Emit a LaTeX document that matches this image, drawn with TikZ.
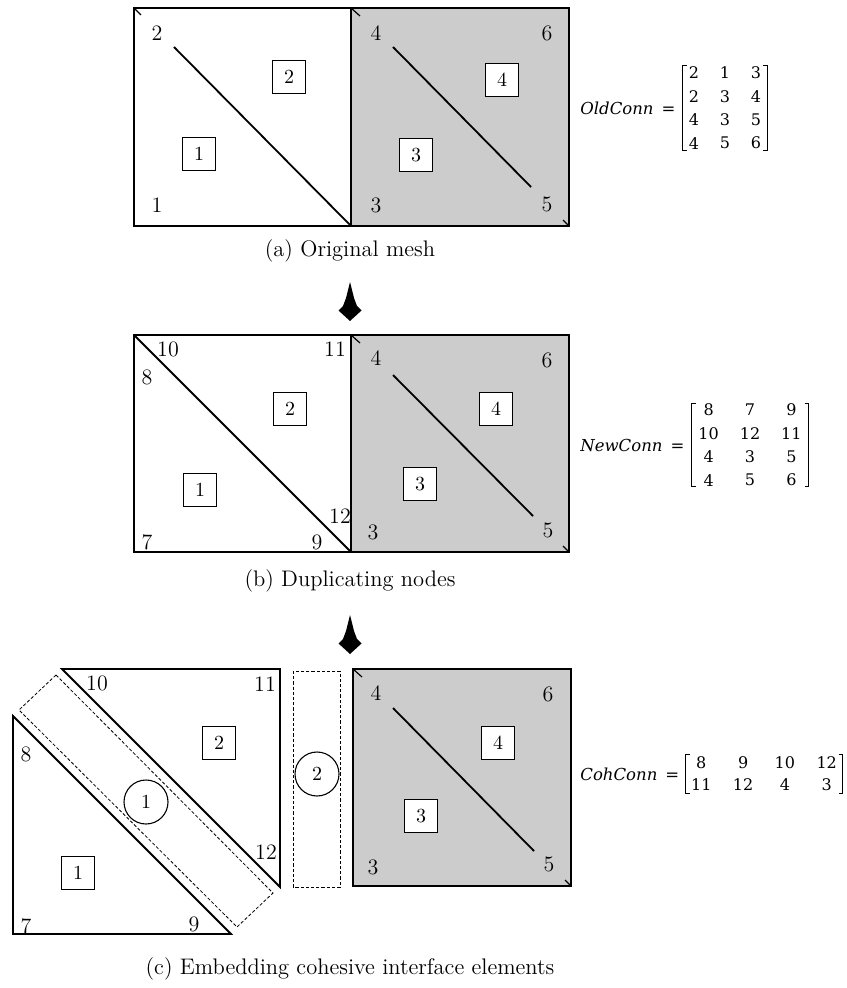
\documentclass[tikz,border=0pt]{standalone}
\usepackage{fontspec}
\newfontfamily\connfont{DejaVu Serif}
\usetikzlibrary{matrix}

% square brackets round a matrix: name, inset x, inset y
\newcommand{\connbrackets}[3]{
   \draw[bracket] ([shift={(#2+4,#3)}]#1.north west) -- ([shift={(#2,#3)}]#1.north west) -- ([shift={(#2,-#3)}]#1.south west) -- ([shift={(#2+4,-#3)}]#1.south west);
   \draw[bracket] ([shift={(-#2-4,#3)}]#1.north east) -- ([shift={(-#2,#3)}]#1.north east) -- ([shift={(-#2,-#3)}]#1.south east) -- ([shift={(-#2-4,-#3)}]#1.south east);
}

\begin{document}
\begin{tikzpicture}[x=0.5pt,y=-0.5pt]
   \tikzstyle{edge}=[line width=0.9pt]
   \tikzstyle{tick}=[line width=0.6pt]
   \tikzstyle{elem}=[draw, line width=0.55pt, fill=white, minimum size=16.5pt, inner sep=0pt]
   \tikzstyle{coh}=[draw, circle, line width=0.55pt, minimum size=22pt, inner sep=0pt]
   \tikzstyle{num}=[inner sep=0pt, font=\fontsize{11}{13}\selectfont]
   \tikzstyle{caption}=[inner sep=0pt, font=\fontsize{11.25}{14}\selectfont]
   \tikzstyle{cutline}=[line width=0.4pt, dash pattern=on 1.6pt off 1pt]
   \tikzstyle{bigarrow}=[fill=black]
   \tikzstyle{bracket}=[line width=0.6pt]
   \tikzstyle{connname}=[inner sep=0pt, font=\connfont\itshape\fontsize{8.25}{10}\selectfont]
   \tikzstyle{connmat}=[matrix of nodes, inner sep=0pt,
      nodes={inner sep=0pt, anchor=center, font=\connfont\fontsize{8}{9}\selectfont}]
   \useasboundingbox (0,0) rectangle (846,988);

% original mesh
\draw[edge] (134,8) rectangle (351,226);
\draw[edge, fill=black!20] (351,8) rectangle (569,226);
\draw[edge] (174,47) -- (351,226);
\draw[edge] (393,47) -- (531,187);
\draw[tick] (134,8) -- (141,15);
\draw[tick] (351,8) -- (360,16);
\draw[tick] (569,226) -- (563,220);
\node[elem] (a1) at (199,154) {1};
\node[elem] (a2) at (289,77) {2};
\node[elem] (a3) at (416,155) {3};
\node[elem] (a4) at (502,80) {4};
\node[num] (an1) at (157,205) {1};
\node[num] (an2) at (157,33) {2};
\node[num] (an3) at (376,205) {3};
\node[num] (an4) at (376,33) {4};
\node[num] (an5) at (547,204) {5};
\node[num] (an6) at (547,33) {6};
\node[caption] (acap) at (350,251) {(a) Original mesh};
\node[connname, anchor=west] (aname) at (580,108) {OldConn\hspace{4pt}\upshape=};
\matrix[connmat, nodes={minimum width=15.5pt, minimum height=11.7pt}] (amat) at (725,108) {
   2 & 1 & 3 \\
   2 & 3 & 4 \\
   4 & 3 & 5 \\
   4 & 5 & 6 \\
};
\connbrackets{amat}{4.5}{5}

\fill[bigarrow, shift={(350,0)}] (0,282) -- (4,298) -- (7,306) -- (11.5,310.5) -- (0,321) -- (-11.5,310.5) -- (-7,306) -- (-4,298) -- cycle;

% duplicated nodes
\draw[edge] (134,335) rectangle (351,552);
\draw[edge, fill=black!20] (351,335) rectangle (569,552);
\draw[edge] (134,335) -- (351,552);
\draw[edge] (393,375) -- (533,516);
\draw[tick] (351,335) -- (360,343);
\draw[tick] (569,552) -- (563,546);
\node[elem] (b1) at (200,490) {1};
\node[elem] (b2) at (290,409) {2};
\node[elem] (b3) at (420,484) {3};
\node[elem] (b4) at (496,409) {4};
\node[num] (bn7) at (147,542) {7};
\node[num] (bn8) at (147,377) {8};
\node[num] (bn9) at (317,542) {9};
\node[num] (bn10) at (168,349) {10};
\node[num] (bn11) at (335,349) {11};
\node[num] (bn12) at (340,516) {12};
\node[num] (bn3) at (373,532) {3};
\node[num] (bn4) at (376,358) {4};
\node[num] (bn5) at (548,530) {5};
\node[num] (bn6) at (547,360) {6};
\node[caption] (bcap) at (350,581) {(b) Duplicating nodes};
\node[connname, anchor=west] (bname) at (580,445) {NewConn\hspace{4pt}\upshape=};
\matrix[connmat, nodes={minimum width=20.7pt, minimum height=11.7pt}] (bmat) at (750,445) {
   8 & 7 & 9 \\
   10 & 12 & 11 \\
   4 & 3 & 5 \\
   4 & 5 & 6 \\
};
\connbrackets{bmat}{4}{5.5}

\fill[bigarrow, shift={(350,333)}] (0,282) -- (4,298) -- (7,306) -- (11.5,310.5) -- (0,321) -- (-11.5,310.5) -- (-7,306) -- (-4,298) -- cycle;

% cohesive elements
\draw[edge] (13,716) -- (13,934) -- (231,934) -- cycle;
\draw[edge] (62,669) -- (280,669) -- (280,887) -- cycle;
\draw[cutline] (56,675) -- (19,710) -- (237,927) -- (273,893) -- cycle;
\draw[cutline] (293,671) rectangle (340,887);
\draw[edge, fill=black!20] (353,669) rectangle (571,886);
\draw[edge] (393,708) -- (534,851);
\draw[tick] (353,669) -- (362,677);
\draw[tick] (571,886) -- (565,880);
\node[elem] (c1) at (78,873) {1};
\node[elem] (c2) at (219,743) {2};
\node[elem] (c3) at (421,816) {3};
\node[elem] (c4) at (498,743) {4};
\node[coh] (k1) at (146,802) {1};
\node[coh] (k2) at (317,774) {2};
\node[num] (cn7) at (26,926) {7};
\node[num] (cn8) at (26,754) {8};
\node[num] (cn9) at (194,924) {9};
\node[num] (cn10) at (97,683) {10};
\node[num] (cn11) at (265,684) {11};
\node[num] (cn12) at (266,852) {12};
\node[num] (cn3) at (373,867) {3};
\node[num] (cn4) at (376,693) {4};
\node[num] (cn5) at (549,864) {5};
\node[num] (cn6) at (548,694) {6};
\node[caption] (ccap) at (350,969) {(c) Embedding cohesive interface elements};
\node[connname, anchor=west] (cname) at (580,774) {CohConn\hspace{4pt}\upshape=};
\matrix[connmat, nodes={minimum width=20.9pt, minimum height=11pt}] (cmat) at (764,774) {
   8 & 9 & 10 & 12 \\
   11 & 12 & 4 & 3 \\
};
\connbrackets{cmat}{5.5}{3}

\end{tikzpicture}
\end{document}
